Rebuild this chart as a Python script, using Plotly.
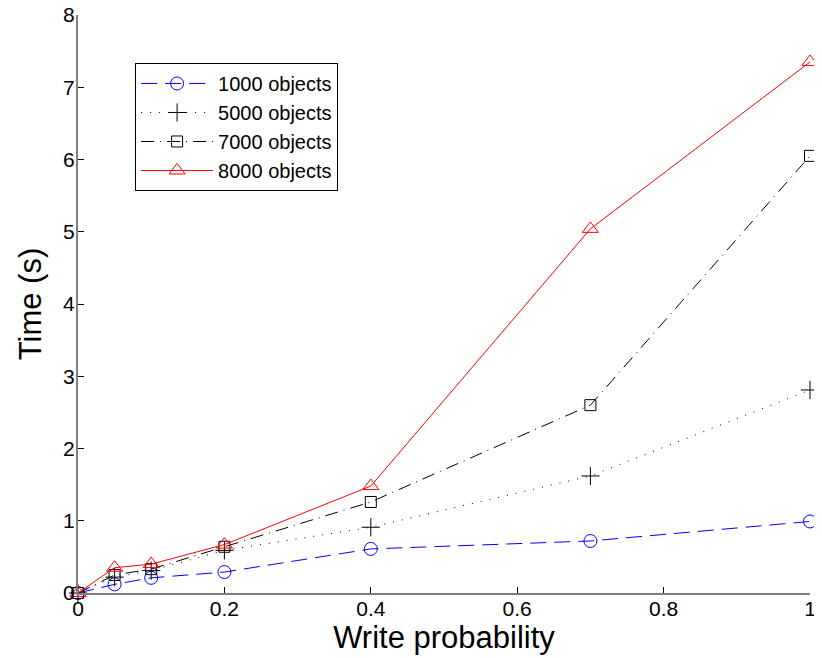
import plotly.graph_objects as go

x_vals = [0, 0.05, 0.1, 0.2, 0.4, 0.7, 1.0]
y_1000 = [0, 0.12, 0.21, 0.29, 0.61, 0.72, 0.99]
y_5000 = [0, 0.22, 0.31, 0.59, 0.91, 1.62, 2.81]
y_7000 = [0, 0.25, 0.33, 0.64, 1.26, 2.60, 6.05]
y_8000 = [0, 0.35, 0.40, 0.67, 1.48, 5.04, 7.35]
names = ["1000 objects", "5000 objects", "7000 objects", "8000 objects"]

series = [
    (y_1000, names[0], "blue", "16px,8px", "circle-open", 13),
    (y_5000, names[1], "black", "1px,8px", "cross-thin-open", 13),
    (y_7000, names[2], "black", "13px,6px,1px,6px", "square-open", 11),
    (y_8000, names[3], "red", "solid", "triangle-up-open", 14),
]

fig = go.Figure()
for ys, nm, col, dash, sym, sz in series:
    fig.add_trace(go.Scatter(
        x=x_vals, y=ys, name=nm, mode="lines+markers",
        line=dict(color=col, width=1, dash=dash),
        marker=dict(symbol=sym, size=sz, color=col, line=dict(color=col, width=1)),
        cliponaxis=False,
    ))

font_family = "Liberation Sans, Arial, sans-serif"
# page body has an 8px default margin, so the figure is offset by 8px
fig.update_layout(
    width=814, height=650,
    margin=dict(l=70, r=12, t=7, b=65),
    plot_bgcolor="white", paper_bgcolor="white",
    font=dict(family=font_family, color="black"),
    showlegend=True,
    legend=dict(
        x=0.078, y=0.917, xanchor="left", yanchor="top",
        bordercolor="black", borderwidth=1, bgcolor="white",
        font=dict(size=20, family=font_family),
        tracegroupgap=0, itemwidth=72,
    ),
    xaxis=dict(
        range=[0, 1], tickvals=[0, 0.2, 0.4, 0.6, 0.8, 1],
        ticktext=["0", "0.2", "0.4", "0.6", "0.8", "1"],
        showgrid=False, zeroline=False, showline=True, linecolor="#808080", linewidth=2,
        ticks="inside", ticklen=6, tickcolor="black", automargin=False,
        ticklabelstandoff=-4, ticklabeloverflow="allow",
        tickfont=dict(size=21), title=dict(text="Write probability", font=dict(size=31), standoff=2),
    ),
    yaxis=dict(
        range=[0, 8], tickvals=list(range(0, 9)),
        showgrid=False, zeroline=False, showline=True, linecolor="#808080", linewidth=2,
        ticks="inside", ticklen=6, tickcolor="black", automargin=False,
        ticklabelstandoff=-3, ticklabeloverflow="allow",
        tickfont=dict(size=21), title=dict(text="Time (s)", font=dict(size=31), standoff=12),
    ),
)

fig.write_html("out.html")
